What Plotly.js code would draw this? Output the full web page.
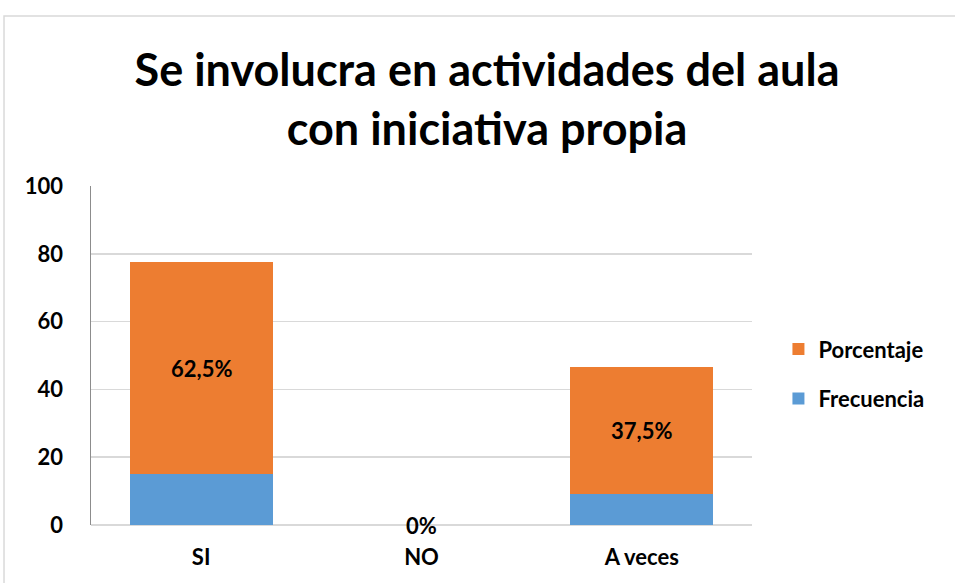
<!DOCTYPE html>
<html>
<head>
<meta charset="utf-8">
<script src="https://cdn.plot.ly/plotly-3.0.1.min.js"></script>
<style>html,body{margin:0;padding:0;background:#fff}#chart{width:955px;height:583px}</style>
</head>
<body>
<div id="chart"></div>
<script>
const categories = ["SI", "NO", "A veces"];
const frecuencia = [15, 0, 9];
const porcentaje = [62.5, 0, 37.5];
const pctLabels = ["62,5%", "0%", "37,5%"];

const font = "Lato, 'Open Sans', 'DejaVu Sans', sans-serif";

const traces = [
  {type: "bar", name: "Frecuencia", x: categories, y: frecuencia, legendgroup: "f", legendrank: 2,
   marker: {color: "#5B9BD5"}, hoverinfo: "x+y"},
  {type: "bar", name: "Porcentaje", x: categories, y: porcentaje, legendgroup: "p", legendrank: 1,
   marker: {color: "#ED7D31"}, hoverinfo: "x+y"}
];

const annotations = categories.map((c, i) => ({
  x: c, y: frecuencia[i] + porcentaje[i] / 2, xref: "x", yref: "y",
  text: "<b>" + pctLabels[i] + "</b>", showarrow: false,
  font: {family: font, size: 22, color: "#000"}
}));

const layout = {
  width: 955, height: 583,
  paper_bgcolor: "#fff", plot_bgcolor: "#fff",
  margin: {l: 91, r: 203, t: 186, b: 58},
  barmode: "stack", bargap: 0.35,
  title: {
    text: "<b>Se involucra en actividades del aula<br>con iniciativa propia</b>",
    x: 0.51, xref: "container", y: 0.852, yref: "container", yanchor: "bottom",
    font: {family: font, size: 45, color: "#000"}
  },
  xaxis: {
    showline: false, ticks: "", showgrid: false, ticklabelstandoff: 17,
    tickfont: {family: font, size: 22, color: "#000", weight: "bold"}
  },
  yaxis: {
    range: [0, 100], dtick: 20, showline: true, linecolor: "#8c8c8c", linewidth: 1.5,
    gridcolor: "#d9d9d9", gridwidth: 1.5, zeroline: true, zerolinecolor: "#d9d9d9", zerolinewidth: 1.5,
    ticks: "", ticklen: 0, automargin: false, ticklabelstandoff: 22,
    tickfont: {family: font, size: 22, color: "#000", weight: "bold"}
  },
  showlegend: true,
  legend: {
    x: 1.04, xanchor: "left", y: 0.445, yanchor: "middle",
    traceorder: "grouped", itemclick: false,
    font: {family: font, size: 22, color: "#000", weight: "bold"},
    tracegroupgap: 18, itemwidth: 30
  },
  annotations: annotations,
  shapes: [{
    type: "rect", xref: "paper", yref: "paper",
    x0: -0.1316, x1: 1.4, y0: -0.3, y1: 1.5015,
    line: {color: "#d9d9d9", width: 1.5}, fillcolor: "rgba(0,0,0,0)", layer: "below"
  }]
};

Plotly.newPlot("chart", traces, layout, {displayModeBar: false, staticPlot: true});
</script>
</body>
</html>
